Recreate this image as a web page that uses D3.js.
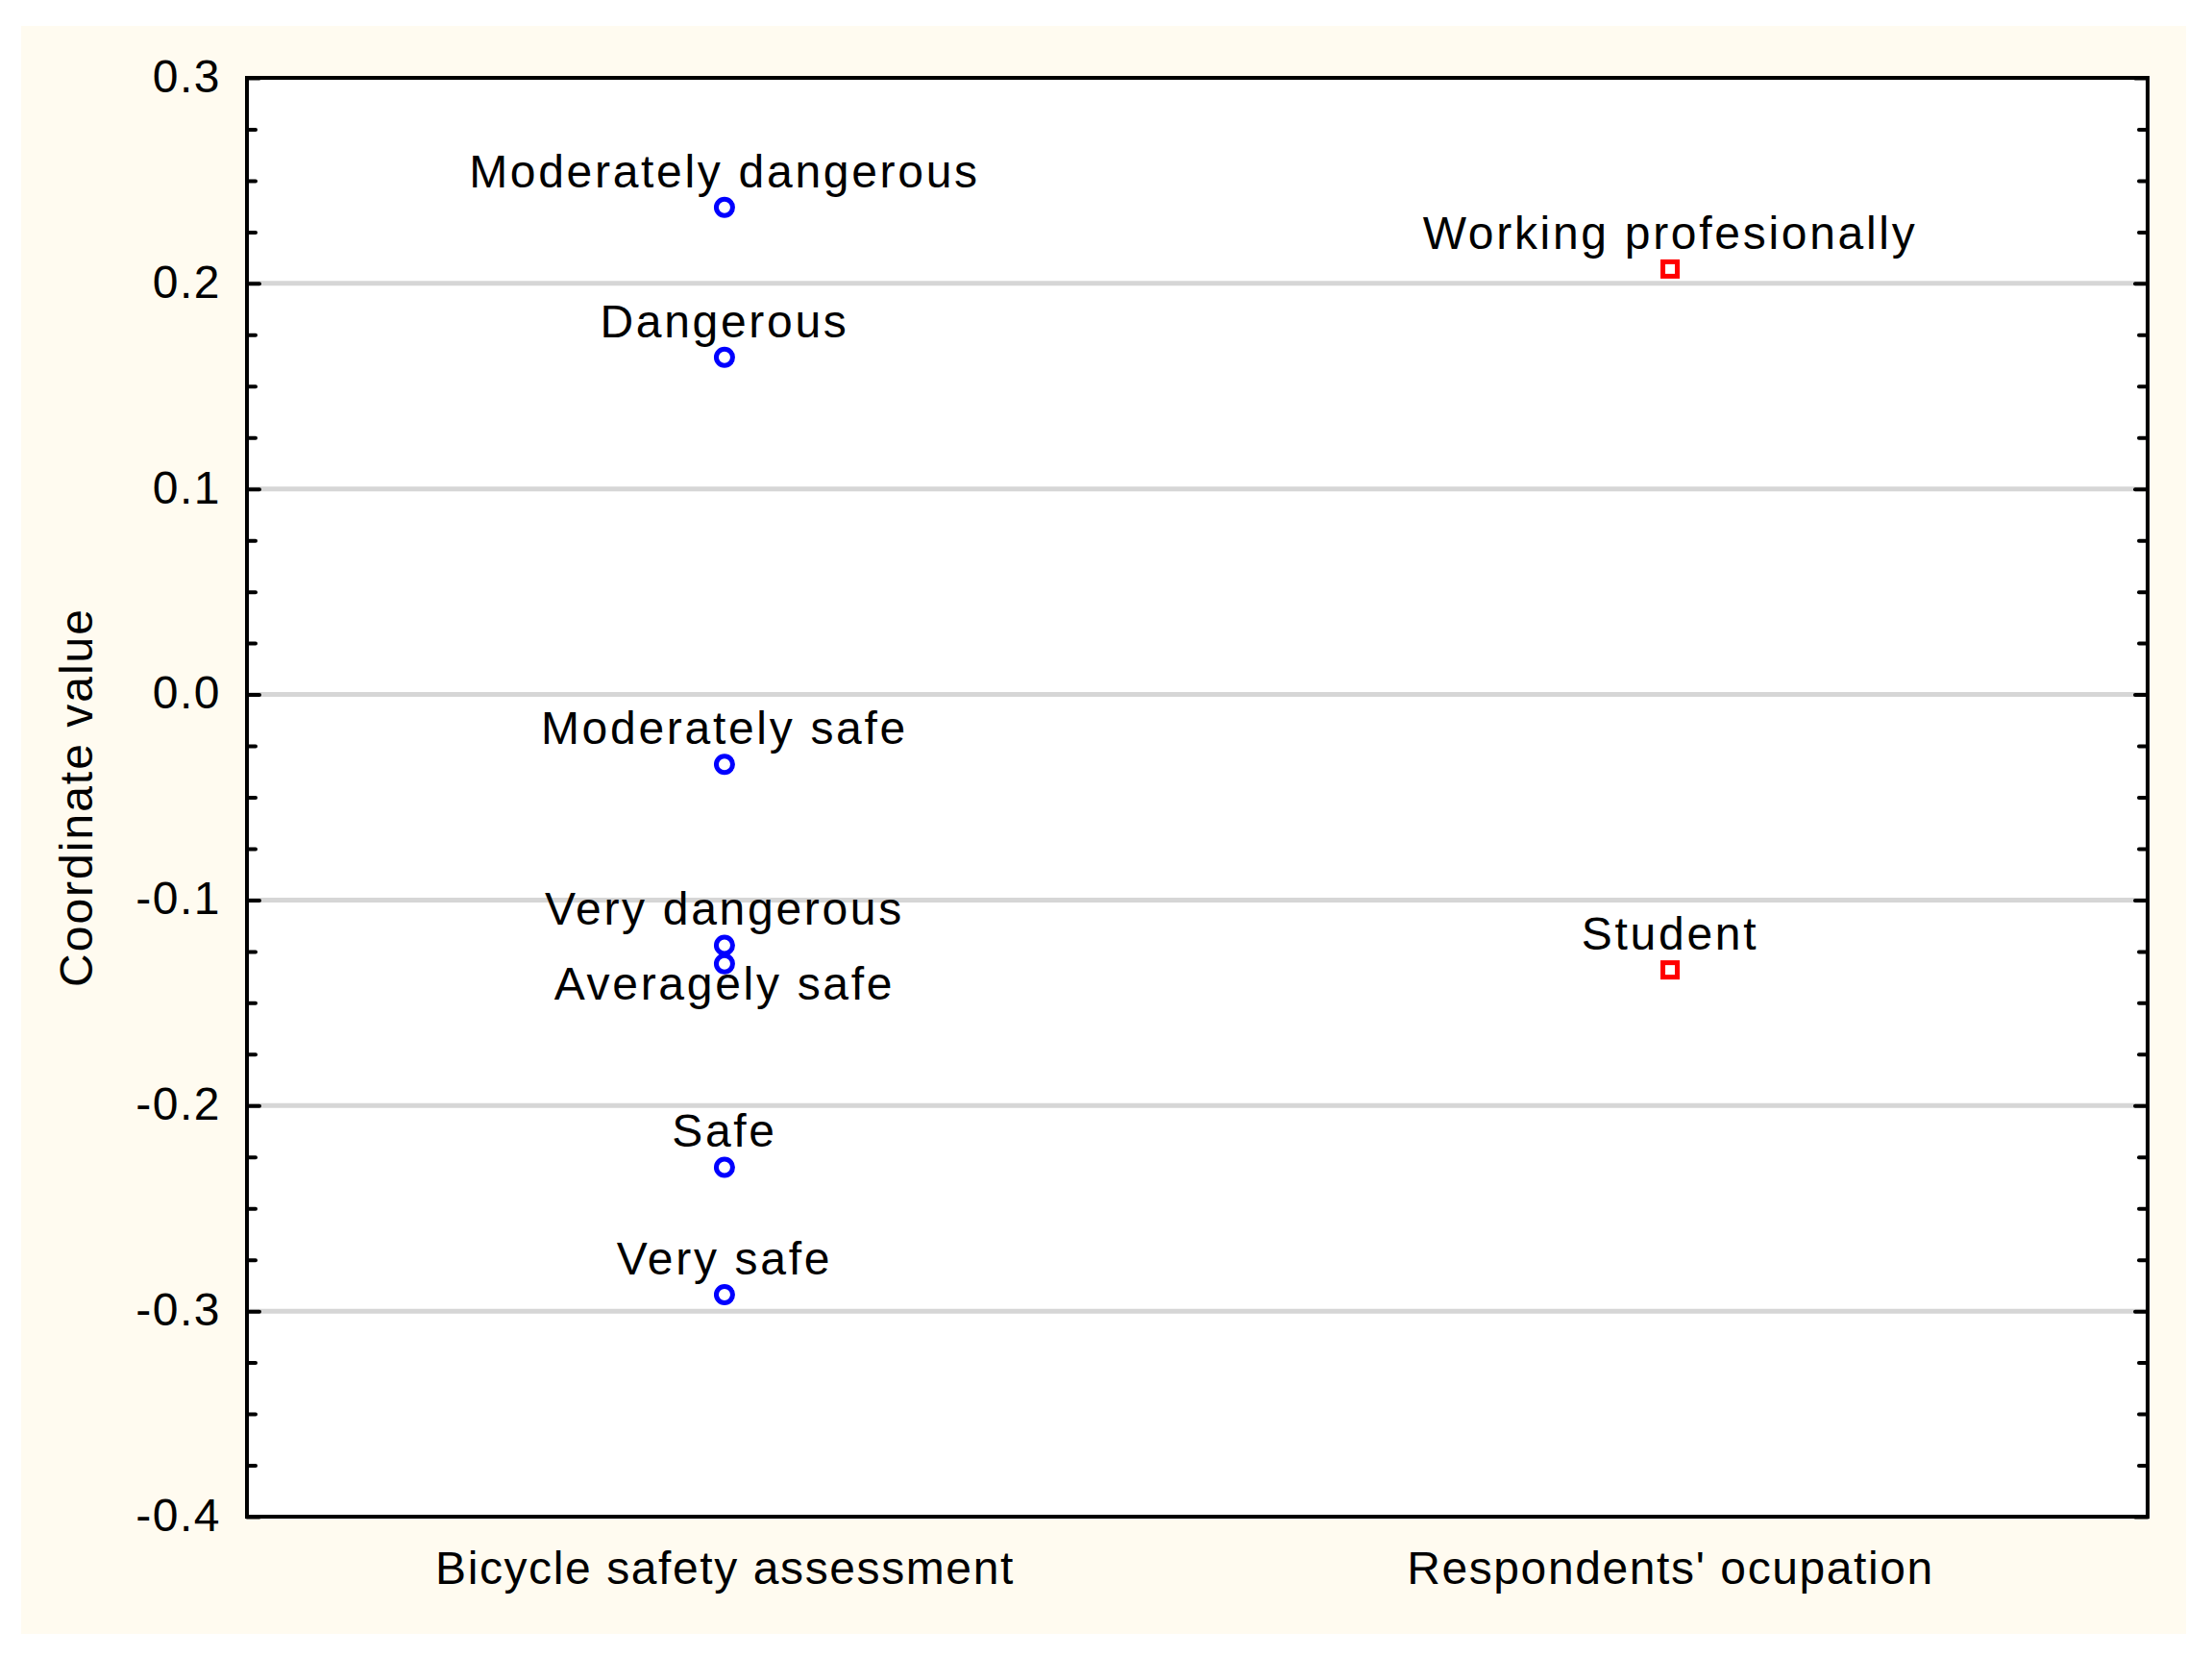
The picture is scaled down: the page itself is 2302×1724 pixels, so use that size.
<!DOCTYPE html>
<html>

<head>
    <title>Coordinate values</title>
    <script src="https://d3js.org/d3.v7.min.js"></script>
    <style>
        body {
            margin: 0;
            background: #ffffff;
        }

        text {
            font-family: "Liberation Sans", Arial, sans-serif;
            fill: #000000;
        }
    </style>
</head>

<body>
    <div id="chart"></div>
    <script>
        // categories on the x axis
        const categories = ["Bicycle safety assessment", "Respondents' ocupation"];

        // first series: bicycle safety assessment
        const safetyLabels = ["Moderately dangerous", "Dangerous", "Moderately safe", "Very dangerous",
            "Averagely safe", "Safe", "Very safe"];
        const safetyValues = [0.237, 0.164, -0.034, -0.122, -0.131, -0.230, -0.292];

        // second series: respondents' occupation
        const occupationLabels = ["Working profesionally", "Student"];
        const occupationValues = [0.207, -0.134];

        // y axis ticks
        const yTicks = [0.3, 0.2, 0.1, 0.0, -0.1, -0.2, -0.3, -0.4];
        const yTickLabels = ["0.3", "0.2", "0.1", "0.0", "-0.1", "-0.2", "-0.3", "-0.4"];

        // labels that sit under their point instead of above it
        const labelsBelow = ["Averagely safe"];

        const width = 2302, height = 1724;
        const plot = { left: 257, top: 81, right: 2235, bottom: 1578 };

        const svg = d3.select("#chart")
            .append("svg")
            .attr("width", width)
            .attr("height", height);

        // beige frame and white plot area
        svg.append("rect")
            .attr("x", 22).attr("y", 27)
            .attr("width", 2253).attr("height", 1673)
            .attr("fill", "#fffbf0");
        svg.append("rect")
            .attr("x", plot.left).attr("y", plot.top)
            .attr("width", plot.right - plot.left).attr("height", plot.bottom - plot.top)
            .attr("fill", "#ffffff");

        const x = d3.scalePoint()
            .domain(categories)
            .range([plot.left, plot.right])
            .padding(0.505);

        const y = d3.scaleLinear()
            .domain([-0.4, 0.3])
            .range([plot.bottom, plot.top]);

        // horizontal grid lines
        svg.append("g")
            .selectAll("line")
            .data(yTicks.slice(1, -1))
            .join("line")
            .attr("x1", plot.left).attr("x2", plot.right)
            .attr("y1", d => y(d)).attr("y2", d => y(d))
            .attr("stroke", "#d6d6d6")
            .attr("stroke-width", 5);

        // minor + major ticks, pointing inwards on both sides
        const minor = d3.range(0, 29).map(i => -0.4 + i * 0.025);
        const yLeft = d3.axisRight(y).tickValues(minor).tickSize(9).tickFormat("");
        const yRight = d3.axisLeft(y).tickValues(minor).tickSize(9).tickFormat("");
        [[yLeft, plot.left], [yRight, plot.right]].forEach(([ax, pos]) => {
            const g = svg.append("g")
                .attr("transform", `translate(${pos},0)`)
                .call(ax);
            g.select(".domain").remove();
            g.selectAll(".tick line")
                .attr("stroke", "#000")
                .attr("stroke-width", 4)
                .attr("stroke-linecap", "round")
                .attr("x2", d => {
                    const major = Math.abs(Math.round(d * 40) % 4) === 0;
                    const len = major ? 13 : 9;
                    return ax === yLeft ? len : -len;
                });
        });

        // y tick labels
        const yAxis = d3.axisLeft(y)
            .tickValues(yTicks)
            .tickSize(0)
            .tickPadding(27)
            .tickFormat((d, i) => yTickLabels[i]);
        const yg = svg.append("g")
            .attr("transform", `translate(${plot.left},0)`)
            .call(yAxis);
        yg.select(".domain").remove();
        yg.selectAll("text")
            .attr("font-size", 48)
            .attr("font-family", "Liberation Sans, Arial, sans-serif")
            .attr("letter-spacing", 1.5)
            .attr("dy", "0.3em");

        // x category labels
        const xAxis = d3.axisBottom(x).tickSize(0).tickPadding(36);
        const xg = svg.append("g")
            .attr("transform", `translate(0,${plot.bottom})`)
            .call(xAxis);
        xg.select(".domain").remove();
        xg.selectAll("text")
            .attr("font-size", 48)
            .attr("font-family", "Liberation Sans, Arial, sans-serif")
            .attr("letter-spacing", 1.6);

        // y axis title
        svg.append("text")
            .attr("transform", `translate(96,${(plot.top + plot.bottom) / 2}) rotate(-90)`)
            .attr("text-anchor", "middle")
            .attr("font-size", 48)
            .attr("letter-spacing", 2)
            .text("Coordinate value");

        // plot frame
        svg.append("rect")
            .attr("x", plot.left).attr("y", plot.top)
            .attr("width", plot.right - plot.left).attr("height", plot.bottom - plot.top)
            .attr("fill", "none")
            .attr("stroke", "#000")
            .attr("stroke-width", 4);

        const safety = safetyLabels.map((l, i) => ({ label: l, value: safetyValues[i] }));
        const occupation = occupationLabels.map((l, i) => ({ label: l, value: occupationValues[i] }));

        // point labels
        function addLabels(data, cat) {
            svg.append("g")
                .selectAll("text")
                .data(data)
                .join("text")
                .attr("x", x(cat))
                .attr("y", d => labelsBelow.includes(d.label) ? y(d.value) + 37 : y(d.value) - 21)
                .attr("text-anchor", "middle")
                .attr("font-size", 48)
                .attr("letter-spacing", 2.7)
                .text(d => d.label);
        }
        addLabels(safety, categories[0]);
        addLabels(occupation, categories[1]);

        // blue circles
        svg.append("g")
            .selectAll("circle")
            .data(safety)
            .join("circle")
            .attr("cx", x(categories[0]))
            .attr("cy", d => y(d.value))
            .attr("r", 8.5)
            .attr("fill", "none")
            .attr("stroke", "#0000ff")
            .attr("stroke-width", 5);

        // red squares
        svg.append("g")
            .selectAll("rect")
            .data(occupation)
            .join("rect")
            .attr("x", x(categories[1]) - 7.5)
            .attr("y", d => y(d.value) - 7.5)
            .attr("width", 15)
            .attr("height", 15)
            .attr("fill", "none")
            .attr("stroke", "#ff0000")
            .attr("stroke-width", 5);
    </script>
</body>

</html>
